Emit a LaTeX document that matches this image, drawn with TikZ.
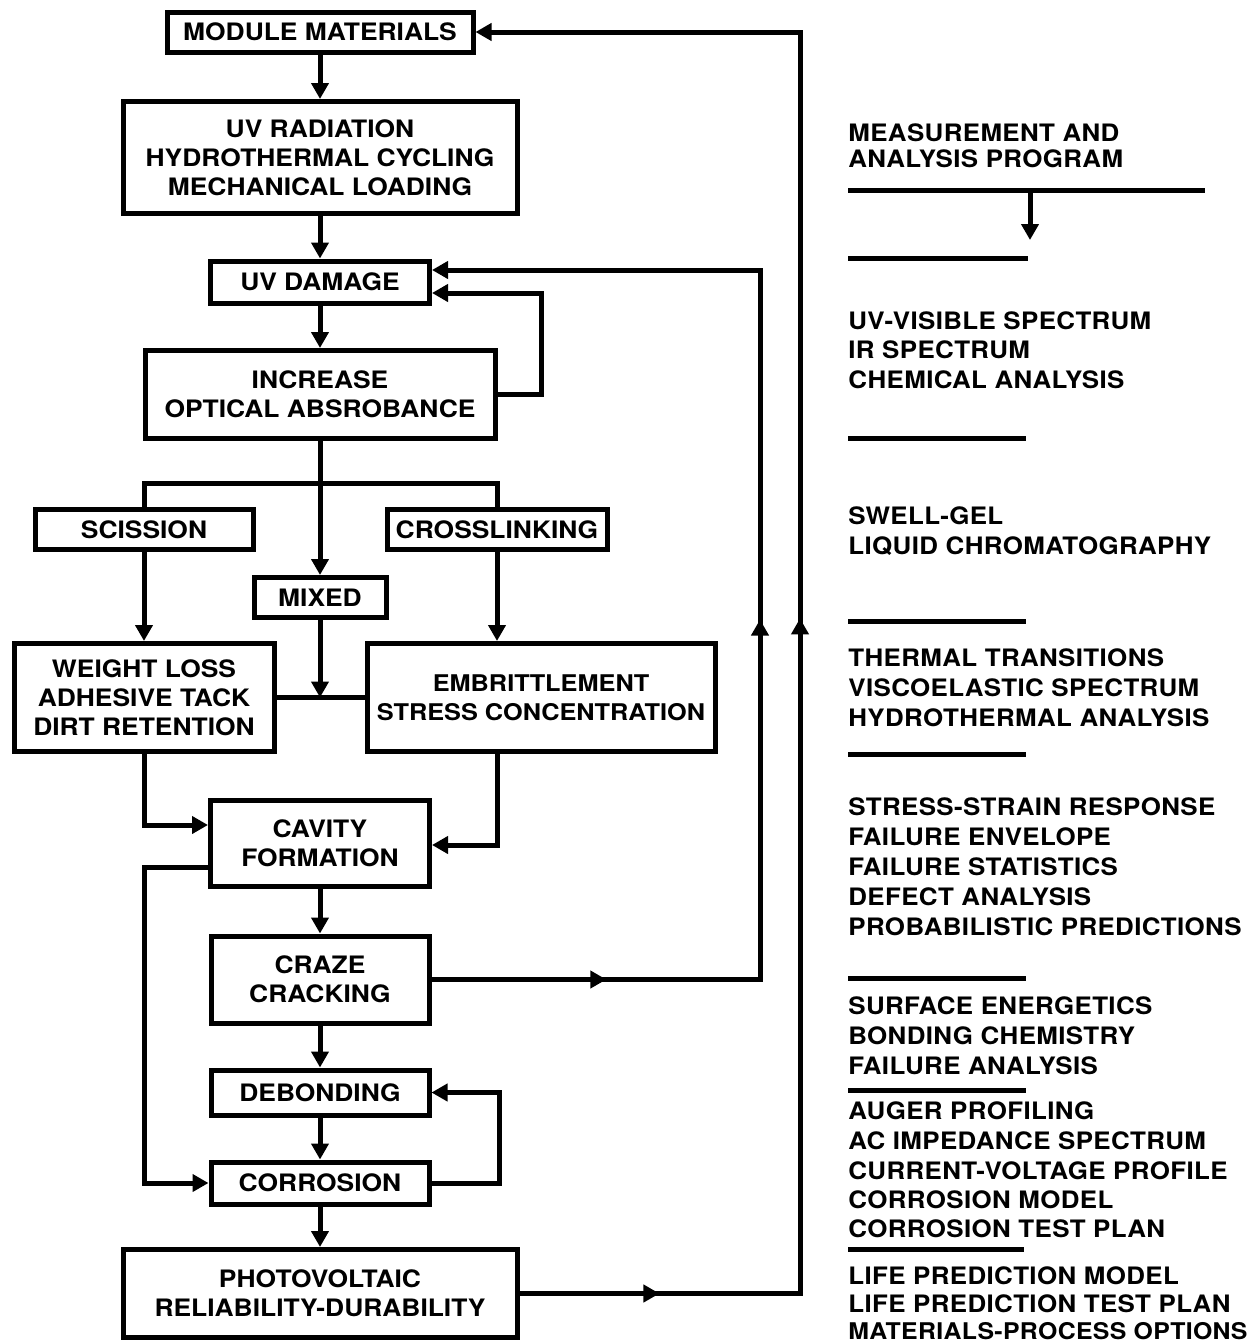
\documentclass[tikz,border=0pt]{standalone}
\usepackage{fontspec}
\setmainfont{TeX Gyre Heros}
\newfontfamily\lf[FakeStretch=1.1]{TeX Gyre Heros}
\newfontfamily\rf[FakeStretch=1.08,LetterSpace=1.5]{TeX Gyre Heros}
\usetikzlibrary{arrows.meta,decorations.markings}
\begin{document}
\begin{tikzpicture}[x=0.5pt,y=-0.5pt,
  box/.style={draw,line width=2.5pt,inner sep=0pt,align=center,
    font=\lf\bfseries\fontsize{12}{14.5}\selectfont},
  conn/.style={line width=2.5pt},
  arr/.style={conn,-{Triangle[length=8pt,width=8.5pt]}},
  rtext/.style={anchor=base west,inner sep=0pt,
    font=\rf\bfseries\fontsize{12}{14}\selectfont},
  rulebar/.style={line width=2.5pt},
  tipat/.style 2 args={postaction={decorate,decoration={markings,
    mark=at position #1 with {\arrow{Triangle[length=8pt,width=8.5pt]}},
    mark=at position #2 with {\arrow{Triangle[length=8pt,width=8.5pt]}}}}}
]
\fill[white] (0,0) rectangle (1259,1344);
\useasboundingbox (0,0) rectangle (1259,1344);

% ---- left flow boxes ----
\node[box,minimum width=153pt,minimum height=20pt] (mm) at (320,32) {MODULE MATERIALS};
\node[box,minimum width=197pt,minimum height=56pt] (uvr) at (320,157.5) {UV RADIATION\\HYDROTHERMAL CYCLING\\MECHANICAL LOADING};
\node[box,minimum width=109.5pt,minimum height=21pt] (uvd) at (320,282) {UV DAMAGE};
\node[box,minimum width=175pt,minimum height=44pt] (inc) at (320,394.5) {INCREASE\\OPTICAL ABSROBANCE};
\node[box,minimum width=109pt,minimum height=20pt] (sci) at (144,529.5) {SCISSION};
\node[box,minimum width=110pt,minimum height=20pt] (cro) at (497,529.5) {CROSSLINKING};
\node[box,minimum width=66pt,minimum height=20pt] (mix) at (320,597.5) {MIXED};
\node[box,minimum width=130pt,minimum height=54pt] (wl) at (144,697.5) {WEIGHT LOSS\\ADHESIVE TACK\\DIRT RETENTION};
\node[box,minimum width=174pt,minimum height=54pt,font=\lf\bfseries\fontsize{11.5}{14.5}\selectfont] (emb) at (541,697.5) {EMBRITTLEMENT\\STRESS CONCENTRATION};
\node[box,minimum width=109.5pt,minimum height=43pt] (cav) at (320,843) {CAVITY\\FORMATION};
\node[box,minimum width=109pt,minimum height=43.5pt] (crz) at (320,979.5) {CRAZE\\CRACKING};
\node[box,minimum width=109pt,minimum height=22.5pt] (deb) at (320,1092.5) {DEBONDING};
\node[box,minimum width=109pt,minimum height=21pt] (cor) at (320,1183) {CORROSION};
\node[box,minimum width=197pt,minimum height=44pt] (pv) at (320,1293.5) {PHOTOVOLTAIC\\RELIABILITY-DURABILITY};

\coordinate (bar) at (320,483);
\coordinate (fb1) at (541,293);
\coordinate (l1) at (760,270);
\coordinate (l2) at (800,32);
\coordinate (l4) at (499,1092.5);

% ---- connectors ----
\draw[arr] (mm) -- (uvr);
\draw[arr] (uvr) -- (uvd);
\draw[arr] (uvd) -- (inc);
\draw[arr] (inc) -- (mix);
\draw[conn] (sci.north) |- (bar) -| (cro.north);
\draw[arr] (inc.east) -| (fb1) -- (fb1 -| uvd.east);
\draw[arr] (sci) -- (wl);
\draw[arr] (cro.south) -- (cro.south |- emb.north);
\draw[conn] (wl.east) -- (emb.west);
\draw[arr] (mix.south) -- (mix.south |- wl.east);
\draw[arr] (wl.south) |- ([yshift=9pt]cav.west);
\draw[arr] ([xshift=-22pt]emb.south) |- ([yshift=-1pt]cav.east);
\draw[arr] ([yshift=-12pt]cav.west) -| (wl.south |- cor.west) -- (cor.west);
\draw[arr] (cav) -- (crz);
\draw[arr] (crz) -- (deb);
\draw[arr] (deb) -- (cor);
\draw[arr] (cor) -- (pv);
\draw[arr] (cor.east) -| (l4) -- (deb.east);
\draw[arr,tipat={0.128}{0.504}] (crz.east) -| (l1) -- (l1 -| uvd.east);
\draw[arr,tipat={0.075}{0.512}] (pv.east) -| (l2) -- (l2 -| mm.east);

% ---- right column ----
\node[rtext] (h1) at (848,141) {MEASUREMENT AND};
\node[rtext] (h2) at (848,167) {ANALYSIS PROGRAM};
\coordinate (hl1) at (848,190);
\coordinate (hl2) at (1205,190);
\coordinate (ha) at (1030,190);
\coordinate (hb) at (1030,240);
\draw[rulebar] (hl1) -- (hl2);
\draw[arr] (ha) -- (hb);
\draw[rulebar] (848,258) -- (1028,258);

\node[rtext] (a1) at (848,329) {UV-VISIBLE SPECTRUM};
\node[rtext] (a2) at (848,358) {IR SPECTRUM};
\node[rtext] (a3) at (848,388) {CHEMICAL ANALYSIS};
\draw[rulebar] (848,438) -- (1026,438);

\node[rtext] (b1) at (848,524) {SWELL-GEL};
\node[rtext] (b2) at (848,554) {LIQUID CHROMATOGRAPHY};
\draw[rulebar] (848,621) -- (1026,621);

\node[rtext] (c1) at (848,666) {THERMAL TRANSITIONS};
\node[rtext] (c2) at (848,696) {VISCOELASTIC SPECTRUM};
\node[rtext] (c3) at (848,726) {HYDROTHERMAL ANALYSIS};
\draw[rulebar] (848,754) -- (1026,754);

\node[rtext] (d1) at (848,815) {STRESS-STRAIN RESPONSE};
\node[rtext] (d2) at (848,845) {FAILURE ENVELOPE};
\node[rtext] (d3) at (848,875) {FAILURE STATISTICS};
\node[rtext] (d4) at (848,905) {DEFECT ANALYSIS};
\node[rtext] (d5) at (848,935) {PROBABILISTIC PREDICTIONS};
\draw[rulebar] (848,978) -- (1026,978);

\node[rtext] (e1) at (848,1014) {SURFACE ENERGETICS};
\node[rtext] (e2) at (848,1044) {BONDING CHEMISTRY};
\node[rtext] (e3) at (848,1074) {FAILURE ANALYSIS};
\draw[rulebar] (848,1090) -- (1026,1090);

\node[rtext] (f1) at (848,1119) {AUGER PROFILING};
\node[rtext] (f2) at (848,1149) {AC IMPEDANCE SPECTRUM};
\node[rtext] (f3) at (848,1179) {CURRENT-VOLTAGE PROFILE};
\node[rtext] (f4) at (848,1208) {CORROSION MODEL};
\node[rtext] (f5) at (848,1237) {CORROSION TEST PLAN};
\draw[rulebar] (848,1249) -- (1024,1249);

\node[rtext] (g1) at (848,1284) {LIFE PREDICTION MODEL};
\node[rtext] (g2) at (848,1312) {LIFE PREDICTION TEST PLAN};
\node[rtext,font=\rf\bfseries\fontsize{11.5}{14}\selectfont] (g3) at (848,1339) {MATERIALS-PROCESS OPTIONS};
\end{tikzpicture}
\end{document}
